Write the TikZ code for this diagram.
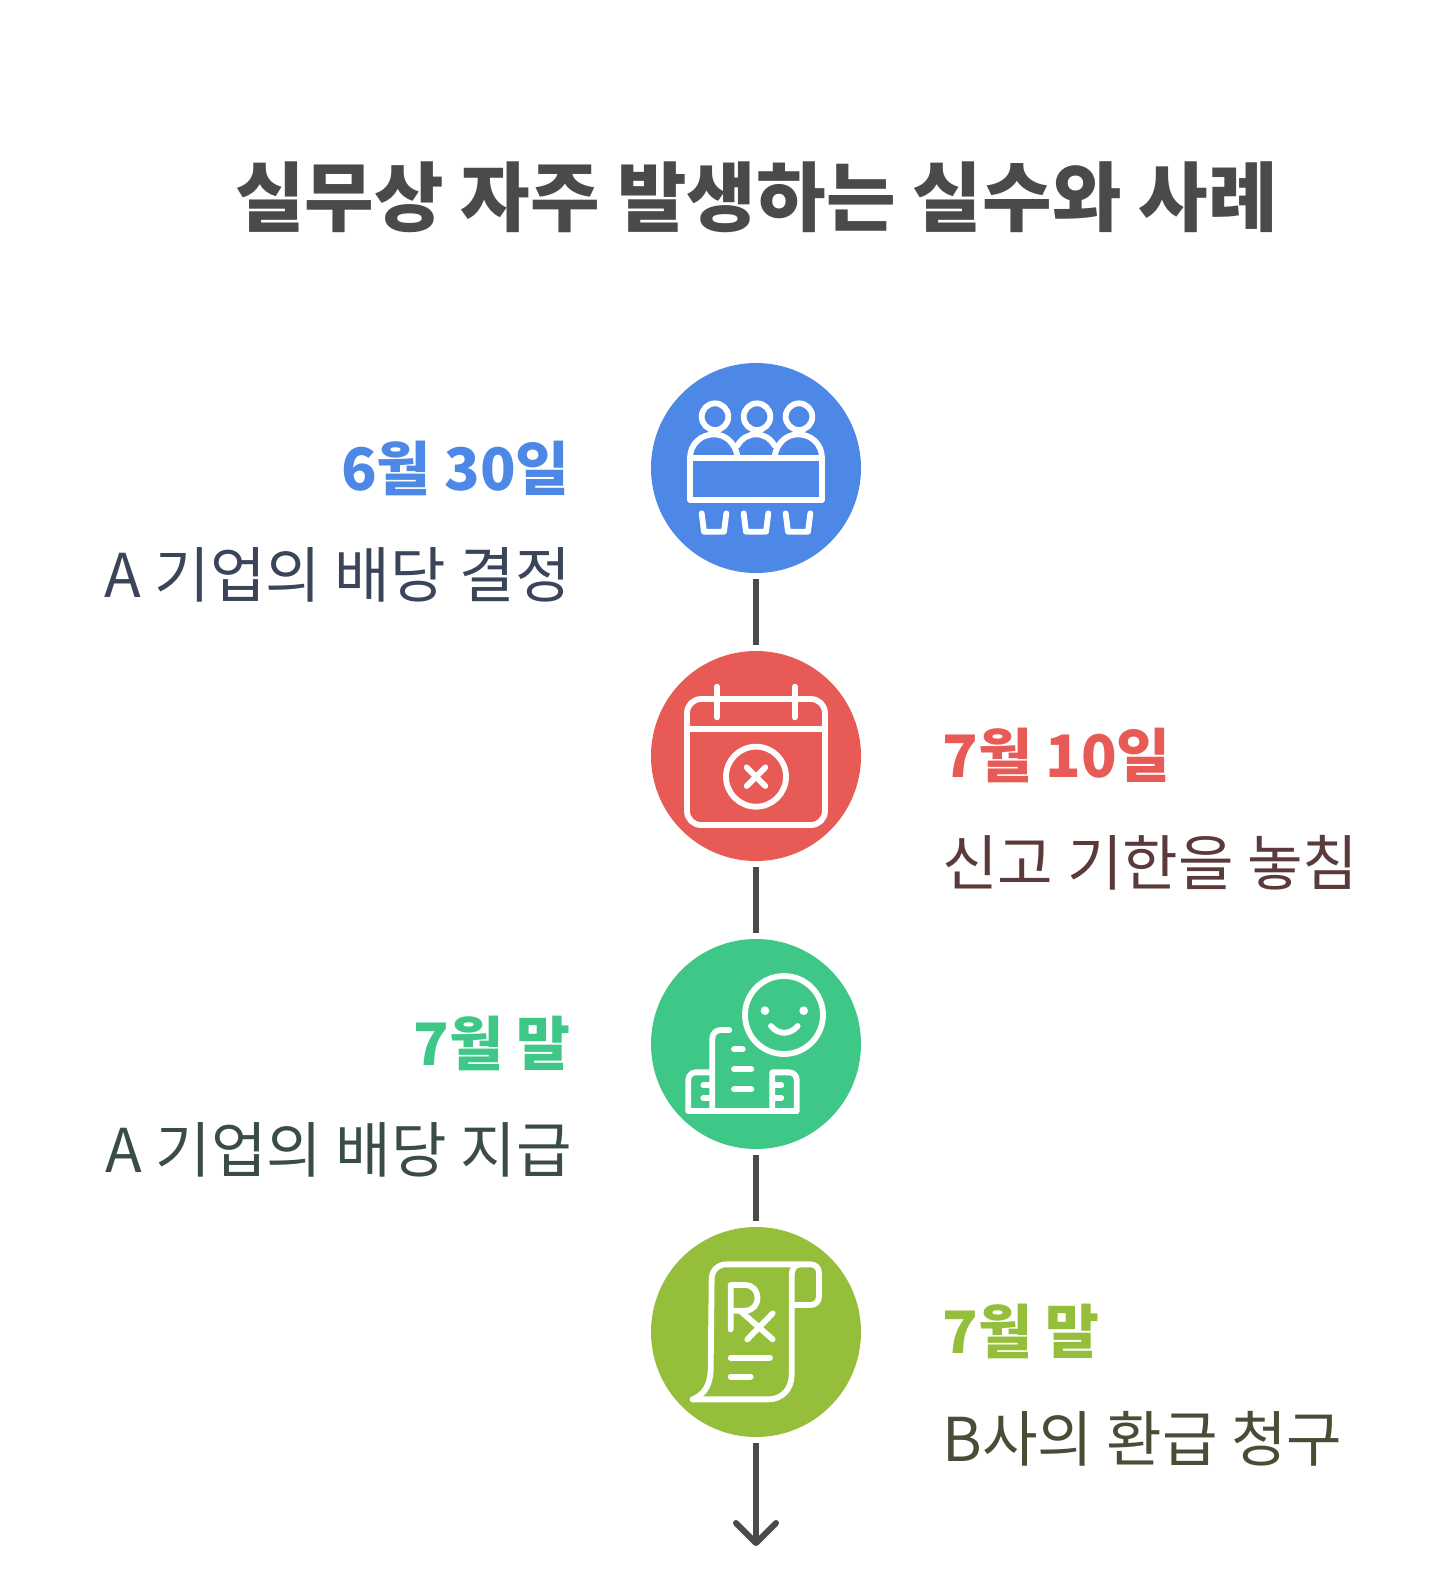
\documentclass[tikz,border=0pt]{standalone}
\usepackage{fontspec}
\setmainfont{Noto Sans CJK KR}
\usetikzlibrary{arrows.meta}
\definecolor{bluefill}{HTML}{4E88E7}
\definecolor{redfill}{HTML}{E85A56}
\definecolor{greenfill}{HTML}{3EC787}
\definecolor{limefill}{HTML}{95BE3B}
\definecolor{darkgray}{HTML}{4A4A4A}
\definecolor{bluetext}{HTML}{3A4559}
\definecolor{redtext}{HTML}{5A3A3A}
\definecolor{greentext}{HTML}{3A4D45}
\definecolor{limetext}{HTML}{4A4D35}
\begin{document}
\begin{tikzpicture}[x=0.5pt,y=-0.5pt,node distance=144pt,
    main/.style = {circle, minimum size=105pt, inner sep=0pt},
    link/.style = {draw=darkgray, line width=3pt, shorten <=3pt, shorten >=3pt},
    title/.style = {anchor=base, inner sep=0pt, font=\fontsize{37.8}{45}\selectfont\bfseries, text=darkgray},
    dateR/.style = {anchor=base west, inner sep=0pt, font=\fontsize{29.3}{36}\selectfont\bfseries},
    dateL/.style = {anchor=base east, inner sep=0pt, font=\fontsize{29.3}{36}\selectfont\bfseries},
    textR/.style = {anchor=base west, inner sep=0pt, font=\fontsize{30.2}{36}\selectfont},
    textL/.style = {anchor=base east, inner sep=0pt, font=\fontsize{30.2}{36}\selectfont},
    icon/.style = {x=0.16667pt, y=-0.16667pt, draw=white, line width=2.9pt, line cap=round, line join=round}]
  \useasboundingbox (0,0) rectangle (1440,1587);
  \node[title] (head) at (756.5,225) {실무상 자주 발생하는 실수와 사례};
  %
  \node[main, fill=bluefill] (0) at (756,468) {};
  \node[main, fill=redfill] (1) [below of=0] {};
  \node[main, fill=greenfill] (2) [below of=1] {};
  \node[main, fill=limefill] (3) [below of=2] {};
  \coordinate (end) at (756,1546);
  %
  \draw[link] (0) -- (1);
  \draw[link] (1) -- (2);
  \draw[link] (2) -- (3);
  \draw[link, shorten >=0pt, -{Straight Barb[length=10pt,width=20pt,round]}] (3) -- (end);
  %
  \node[dateL, text=bluefill] (d0) at (570,490) {6월 30일};
  \node[textL, text=bluetext] (t0) at (571,597) {A 기업의 배당 결정};
  \node[dateR, text=redfill] (d1) at (942,777) {7월 10일};
  \node[textR, text=redtext] (t1) at (942,885) {신고 기한을 놓침};
  \node[dateL, text=greenfill] (d2) at (571,1065) {7월 말};
  \node[textL, text=greentext] (t2) at (572,1172) {A 기업의 배당 지급};
  \node[dateR, text=limefill] (d3) at (942,1353) {7월 말};
  \node[textR, text=limetext] (t3) at (942,1461) {B사의 환급 청구};
  %
  \begin{scope}[shift={(640,355)}, icon]
    \foreach \i in {225,351,477} \draw (\i,185) circle (40);
    \draw (150,310) rectangle (546,435);
    \draw (150,310) .. controls (150,265) and (185,238) .. (222,238) .. controls (258,238) and (285,265) .. (292,302);
    \draw (292,272) .. controls (305,250) and (325,238) .. (348,238) .. controls (371,238) and (391,250) .. (404,272);
    \draw (404,302) .. controls (411,265) and (438,238) .. (474,238) .. controls (511,238) and (546,265) .. (546,310);
    \foreach \i in {0,126,252} \draw (185+\i,475) -- (192+\i,530) -- (252+\i,530) -- (259+\i,475);
  \end{scope}
  \begin{scope}[shift={(640,640)}, icon]
    \draw[rounded corners=7pt] (141,177) rectangle (555,555);
    \draw (141,267) -- (555,267);
    \draw (231,140) -- (231,232);
    \draw (464,140) -- (464,232);
    \draw (348,410) circle (90);
    \draw (320,382) -- (376,438);
    \draw (376,382) -- (320,438);
  \end{scope}
  \begin{scope}[shift={(640,930)}, icon]
    \draw (432,255) circle (117);
    \fill[white] (375,242) circle (13) (491,242) circle (13);
    \draw (393,288) .. controls (415,315) and (450,315) .. (473,288);
    \draw (268,300) -- (242,300) .. controls (228,300) and (217,311) .. (217,325) -- (217,543);
    \draw (145,543) -- (470,543);
    \draw (217,427) -- (167,427) .. controls (155,427) and (145,437) .. (145,449) -- (145,543);
    \draw (397,543) -- (397,427) -- (448,427) .. controls (460,427) and (470,437) .. (470,449) -- (470,543);
    \draw (282,358) -- (308,358);
    \draw (282,418) -- (334,418);
    \draw (282,478) -- (334,478);
    \foreach \j in {466,504} {
      \draw (190,\j) -- (217,\j);
      \draw (397,\j) -- (424,\j);
    }
  \end{scope}
  \begin{scope}[shift={(640,1220)}, icon]
    \draw (158,538) -- (385,538) .. controls (428,538) and (455,505) .. (455,465) -- (455,165) .. controls (455,147) and (465,133) .. (482,133);
    \draw (158,538) .. controls (190,525) and (210,500) .. (212,450) -- (215,175) .. controls (216,150) and (235,133) .. (260,133) -- (512,133) .. controls (526,133) and (537,144) .. (537,158) -- (537,230) .. controls (537,244) and (526,255) .. (512,255) -- (460,255);
    \draw (272,328) -- (272,195) -- (315,195) .. controls (365,195) and (365,272) .. (315,272) -- (272,272);
    \draw (300,272) -- (398,358);
    \draw (398,280) -- (322,358);
    \draw (272,413) -- (390,413);
    \draw (272,470) -- (332,470);
  \end{scope}
\end{tikzpicture}
\end{document}
